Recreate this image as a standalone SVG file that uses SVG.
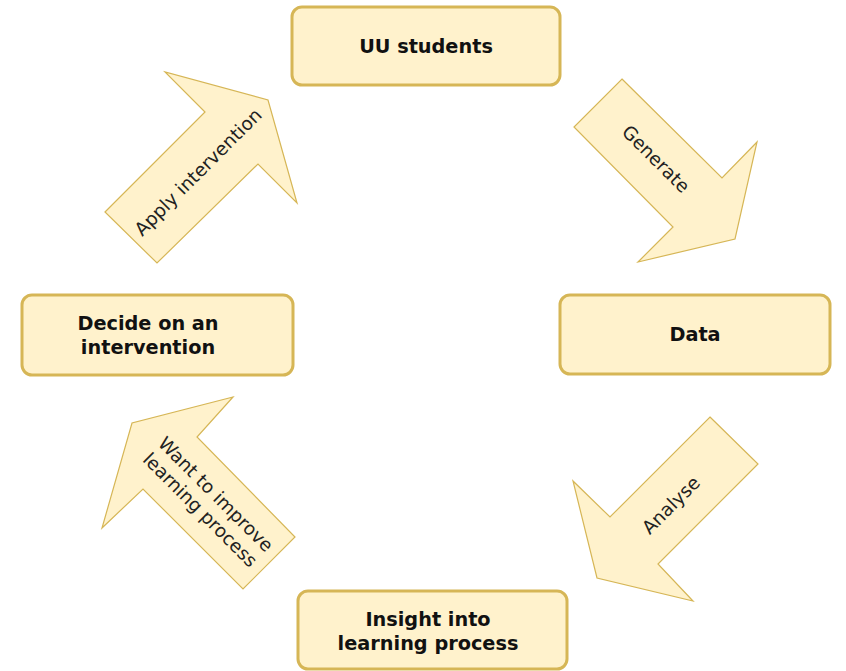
<svg xmlns="http://www.w3.org/2000/svg" width="846" height="671" viewBox="0 0 846 671">
<style>
.box{fill:#fff2cc;stroke:#d6b656;stroke-width:3}
.arr{fill:#fff2cc;stroke:#d6b656;stroke-width:1.2;stroke-linejoin:miter}
.bt{font-family:"DejaVu Sans",Verdana,sans-serif;font-weight:bold;font-size:19.3px;fill:#111;text-anchor:middle;dominant-baseline:central}
.at{font-family:"DejaVu Sans",Verdana,sans-serif;font-size:18.5px;fill:#222;text-anchor:middle;dominant-baseline:central}
</style>
<rect width="846" height="671" fill="#ffffff"/>
<g id="connectors">
  <g id="arrow-generate">
    <polygon class="arr" points="622,79 722,178 757,142 735,239 638,262 673,227 574,127"/>
    <text class="at" transform="translate(656,159) rotate(45)">Generate</text>
  </g>
  <g id="arrow-analyse">
    <polygon class="arr" points="710,417 758,464 658,564 693,601 597,578 573,481 610,517"/>
    <text class="at" transform="translate(671,505) rotate(-45)">Analyse</text>
  </g>
  <g id="arrow-want">
    <polygon class="arr" points="233,397 197,437 295,537 243,589 143,489 102,528 132,423"/>
    <g transform="translate(208,502) rotate(45)">
      <text class="at" x="0" y="-11">Want to improve</text>
      <text class="at" x="0" y="11">learning process</text>
    </g>
  </g>
  <g id="arrow-apply">
    <polygon class="arr" points="105,212 205,112 165,72 268,100 297,203 258,164 157,263"/>
    <text class="at" transform="translate(198,172) rotate(-45)">Apply intervention</text>
  </g>
</g>
<g id="node-uu">
  <rect class="box" x="292" y="7" width="268" height="78" rx="10"/>
  <text class="bt" x="426" y="46">UU students</text>
</g>
<g id="node-data">
  <rect class="box" x="560" y="295" width="270" height="79" rx="10"/>
  <text class="bt" x="695" y="334">Data</text>
</g>
<g id="node-insight">
  <rect class="box" x="298" y="591" width="269" height="78" rx="10"/>
  <text class="bt" x="428" y="619">Insight into</text>
  <text class="bt" x="428" y="643">learning process</text>
</g>
<g id="node-decide">
  <rect class="box" x="22" y="295" width="271" height="80" rx="10"/>
  <text class="bt" x="148" y="323">Decide on an</text>
  <text class="bt" x="148" y="347">intervention</text>
</g>
</svg>
